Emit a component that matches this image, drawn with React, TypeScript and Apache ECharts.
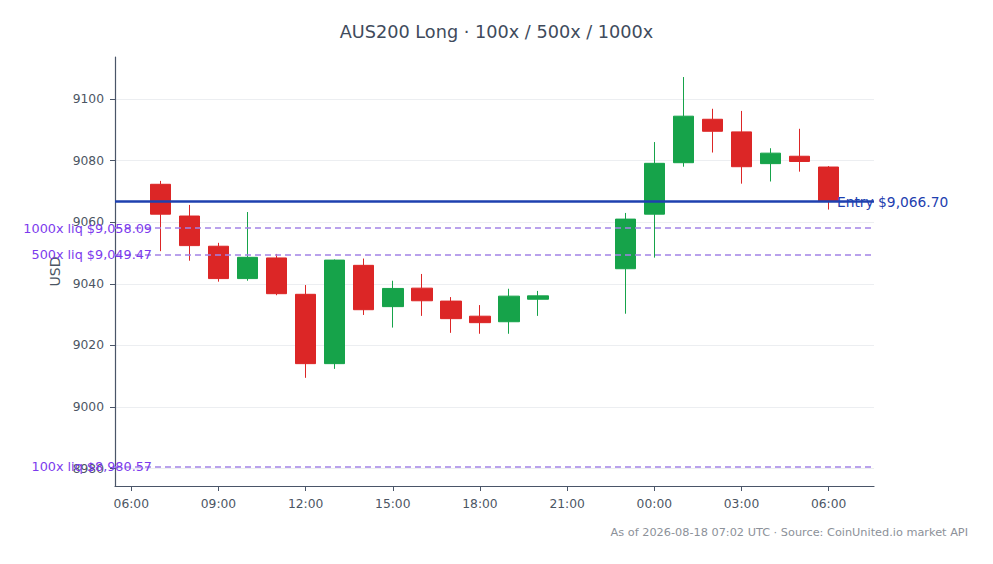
import { useEffect, useRef } from "react";
import * as echarts from "echarts";

// hourly candles (UTC)
const times = [
  "2026-08-17T07:00:00Z", "2026-08-17T08:00:00Z", "2026-08-17T09:00:00Z", "2026-08-17T10:00:00Z",
  "2026-08-17T11:00:00Z", "2026-08-17T12:00:00Z", "2026-08-17T13:00:00Z", "2026-08-17T14:00:00Z",
  "2026-08-17T15:00:00Z", "2026-08-17T16:00:00Z", "2026-08-17T17:00:00Z", "2026-08-17T18:00:00Z",
  "2026-08-17T19:00:00Z", "2026-08-17T20:00:00Z", "2026-08-17T23:00:00Z", "2026-08-18T00:00:00Z",
  "2026-08-18T01:00:00Z", "2026-08-18T02:00:00Z", "2026-08-18T03:00:00Z", "2026-08-18T04:00:00Z",
  "2026-08-18T05:00:00Z", "2026-08-18T06:00:00Z",
];
const opens = [9072.3, 9062.0, 9052.2, 9041.7, 9048.4, 9036.6, 9014.1, 9046.0, 9032.6, 9038.6, 9034.4, 9029.5, 9027.7, 9035.0, 9044.9, 9062.6, 9079.3, 9093.4, 9089.3, 9079.0, 9081.4, 9077.9];
const closes = [9062.6, 9052.4, 9041.7, 9048.6, 9036.8, 9014.1, 9047.7, 9031.6, 9038.5, 9034.5, 9028.7, 9027.4, 9036.0, 9036.1, 9061.0, 9079.1, 9094.4, 9089.5, 9078.0, 9082.4, 9079.7, 9066.7];
const lows = [9050.6, 9047.5, 9040.7, 9041.0, 9036.3, 9009.5, 9012.4, 9029.9, 9025.8, 9029.6, 9024.1, 9023.8, 9023.8, 9029.6, 9030.3, 9048.5, 9078.0, 9082.6, 9072.5, 9073.2, 9076.4, 9064.1];
const highs = [9073.4, 9065.6, 9053.3, 9063.3, 9049.7, 9039.6, 9047.9, 9048.2, 9041.0, 9043.2, 9035.7, 9033.1, 9038.4, 9037.7, 9063.0, 9086.0, 9107.1, 9096.8, 9096.1, 9084.0, 9090.3, 9078.2];

const entryPrice = 9066.7;
const liqLevels = [9058.09, 9049.47, 8980.57];
const liqNames = ["1000x", "500x", "100x"];

const yTicks = [8980, 9000, 9020, 9040, 9060, 9080, 9100];
const xTickTimes = [
  "2026-08-17T06:00:00Z", "2026-08-17T09:00:00Z", "2026-08-17T12:00:00Z", "2026-08-17T15:00:00Z",
  "2026-08-17T18:00:00Z", "2026-08-17T21:00:00Z", "2026-08-18T00:00:00Z", "2026-08-18T03:00:00Z",
  "2026-08-18T06:00:00Z",
];

const dayStart = Date.parse("2026-08-17T00:00:00Z");
// hours since the start of the first day
const toHours = (t: string) => (Date.parse(t) - dayStart) / 3600000;

const fmtUsd = (v: number) =>
  "$" + v.toLocaleString("en-US", { minimumFractionDigits: 2, maximumFractionDigits: 2 });

export default function App() {
  const chartRef = useRef<HTMLDivElement>(null);
  useEffect(() => {
    const chart = echarts.init(chartRef.current, null, { renderer: "svg" });
    const hrs = times.map(toHours);
    const xTicks = xTickTimes.map(toHours);
    const pad = 1.56;
    const candles = hrs.map((h, i) => [h, opens[i], closes[i], lows[i], highs[i]]);

    const option = {
      animation: false,
      backgroundColor: "#ffffff",
      textStyle: { fontFamily: "DejaVu Sans" },
      title: [
        {
          text: "AUS200 Long · 100x / 500x / 1000x",
          left: "center",
          top: 18,
          textStyle: { fontSize: 17.7, fontWeight: "normal", color: "#3f4b5c" },
        },
        {
          text: "As of 2026-08-18 07:02 UTC · Source: CoinUnited.io market API",
          right: 20,
          top: 522,
          textStyle: { fontSize: 11.3, fontWeight: "normal", color: "#8c9199" },
        },
      ],
      grid: { left: 115, right: 119, top: 57, bottom: 78, containLabel: false, outerBoundsMode: "none" },
      xAxis: {
        type: "value",
        min: hrs[0] - pad,
        max: hrs[hrs.length - 1] + pad,
        axisLine: { lineStyle: { color: "#4a5568", width: 1.2 } },
        axisTick: { length: 5, lineStyle: { color: "#4a5568" }, customValues: xTicks },
        axisLabel: {
          customValues: xTicks,
          margin: 12,
          fontSize: 12.3,
          color: "#4b5563",
          formatter: (v: number) => String(Math.round(v) % 24).padStart(2, "0") + ":00",
        },
        splitLine: { show: false },
      },
      yAxis: {
        type: "value",
        min: 8974.4,
        max: 9113.6,
        name: "USD",
        nameLocation: "middle",
        nameGap: 45,
        nameTextStyle: { fontSize: 14, color: "#4b5563" },
        axisLine: { show: true, lineStyle: { color: "#4a5568", width: 1.2 } },
        axisTick: { show: true, length: 5, lineStyle: { color: "#4a5568" }, customValues: yTicks },
        axisLabel: {
          customValues: yTicks,
          margin: 11,
          fontSize: 12.3,
          color: "#4b5563",
          formatter: (v: number) => String(v),
        },
        splitLine: { show: true, lineStyle: { color: "#eceef1", width: 1 } },
      },
      series: [
        {
          type: "candlestick",
          data: candles,
          barWidth: 21,
          itemStyle: {
            color: "#16a34a",
            color0: "#dc2626",
            borderColor: "#16a34a",
            borderColor0: "#dc2626",
            borderWidth: 1,
          },
          markLine: {
            silent: true,
            symbol: "none",
            data: [
              {
                yAxis: entryPrice,
                lineStyle: { color: "#1e40af", width: 2.5, type: "solid" },
                label: {
                  show: true,
                  position: "end",
                  distance: -37,
                  formatter: "Entry " + fmtUsd(entryPrice),
                  color: "#1e40af",
                  fontSize: 13.8,
                },
              },
              ...liqLevels.map((v, i) => ({
                yAxis: v,
                lineStyle: { color: "#a283e6", width: 1.6, type: [6, 4] },
                label: {
                  show: true,
                  position: "start",
                  distance: -37,
                  formatter: liqNames[i] + " liq " + fmtUsd(v),
                  color: "#7c3aed",
                  fontSize: 12.8,
                },
              })),
            ],
          },
        },
      ],
    };
    chart.setOption(option as any);
    return () => {
      chart.dispose();
    };
  }, []);

  return (
    <div
      ref={chartRef}
      style={{ position: "fixed", left: 0, top: 0, width: 993, height: 564 }}
    ></div>
  );
}
